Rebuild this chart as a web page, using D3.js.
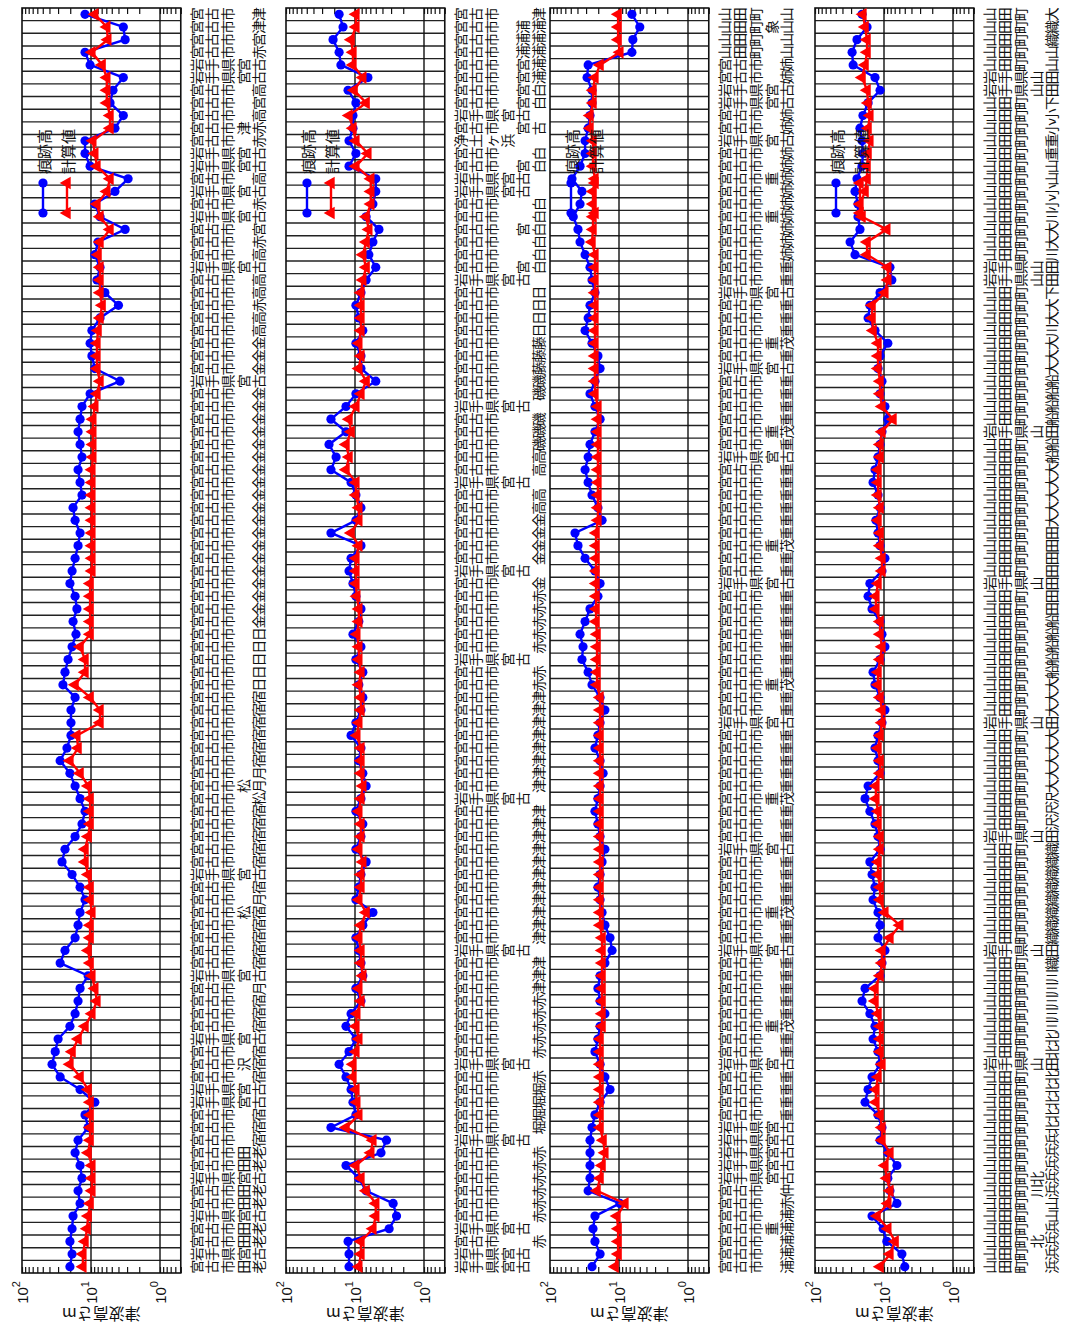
<!DOCTYPE html>
<html><head><meta charset="utf-8">
<script src="https://cdn.jsdelivr.net/npm/d3@7"></script>
<style>body{margin:0;background:#fff}svg{display:block}</style>
</head><body>
<svg id="c" width="1067" height="1329"></svg>
<script>
// ---- data (each panel listed from top row to bottom row) ----
const obs1 = [12.2,3.4,3.2,12.2,10.3,3.4,4.8,5.3,3.4,4.5,
12.2,12.2,10.3,2.9,4.5,8.8,7.4,3.2,7.9,8.8,
7.4,8.2,6.3,4.0,7.4,9.7,10.3,9.7,8.8,3.8,
10.3,13.5,14.4,15.4,14.4,13.5,15.4,14.4,13.5,18.2,
17.0,14.4,15.4,17.0,18.8,20.2,17.0,16.0,18.2,16.5,
18.8,21.5,23.8,25.5,17.0,19.5,19.5,19.5,22.3,28,
20.2,17,14.4,12.2,13.5,17,23.8,26.3,18.8,14.4,
12.2,14.4,15.4,17,23.8,28,11,14.4,15.4,17,
20.2,30,33,36.7,28,14.4,8.8,12.2,11,15.4,
17,14.4,13.5,15.4,14.4,18.2,18.8,20.2,18.8,20.2];
const calc1 = [8.8,5.9,5.7,9.7,6.9,5.9,5.9,5.9,5.3,5.3,
9.4,8.8,8.2,5.3,5.9,8.2,7.4,5.3,7.4,7.9,
7.4,7.4,7.4,6.9,7.4,7.9,8.2,8.2,8.2,7.4,
8.2,8.8,9.4,9.4,9.4,9.4,9.7,9.7,9.7,9.7,
9.7,9.7,9.7,9.7,9.7,10.3,10.3,10.3,10.3,10.3,
14.4,12.2,12.2,17.0,10.3,7.4,7.4,16.0,15.4,20.2,
14.4,11,10.3,10.3,10.3,11,12.2,12.2,11,10.3,
10.3,9.7,10.3,10.3,11,10.3,9.7,8.8,8.2,9.7,
12.2,15.4,18.8,20.2,14.4,11,10.3,10.3,10.3,10.3,
11,9.7,9.7,9.7,10.3,11,11.4,12.2,13.1,13.1];
const obs2 = [17.0,14.9,20.8,17.0,16.0,6.5,12.6,9.7,10.7,10.7,
12.2,9.7,12.2,5.0,5.0,5.5,6.9,4.5,5.5,6.3,
5.0,6.9,8.2,9.7,8.8,7.7,9.7,8.2,8.2,5.0,
9.7,13.5,22.3,13.5,23.8,18.8,22.3,11.4,9.7,8.2,
9.7,22.3,8.2,11.4,12.2,10.7,9.7,8.2,8.8,10.7,
8.2,9.7,7.7,8.8,7.7,8.2,9.7,11.4,8.2,8.8,
7.7,6.9,8.2,9.7,7.7,8.2,9.7,6.9,8.2,8.8,
9.7,5.5,7.7,9.7,8.8,8.2,7.7,9.7,8.2,11.4,
13.5,9.7,12.2,17.0,13.5,11.4,10.7,9.7,22.3,3.5,
4.2,13.5,8.8,6.9,2.8,2.5,3.2,12.6,12.2,12.2];
const calc2 = [9.7,9.7,11.4,10.7,10.7,7.7,10.3,6.9,12.2,10.7,
9.7,6.5,9.7,5.9,5.9,5.9,6.9,6.3,6.9,7.7,
6.9,7.7,8.2,8.2,8.2,8.2,8.8,8.2,8.8,6.9,
8.2,9.7,12.2,11.4,13.5,12.2,13.5,9.7,9.7,8.8,
8.8,11.4,8.8,9.7,9.7,9.7,9.4,8.8,8.8,9.4,
8.8,8.8,8.2,8.8,8.2,8.2,8.8,9.4,8.2,8.2,
8.2,7.7,8.2,8.8,8.2,8.2,8.8,7.7,8.2,8.2,
8.8,6.9,8.2,8.8,8.2,8.2,7.7,8.8,8.2,9.4,
9.7,8.8,9.7,10.7,10.7,9.7,9.4,8.8,13.5,5.5,
5.9,9.7,8.2,6.9,5.0,5.0,5.5,8.2,8.2,8.8];
const obs3 = [6.5,5.0,6.3,6.5,28,29,24.6,24.6,26.3,28,
31,31,36.7,48,34.4,36.7,46,39.3,36.7,31,
26.3,24.6,22.3,26.3,28,31,24.6,20.2,18.8,22.3,
26.3,22.3,18.8,22.3,26.3,28,31,28,24.6,20.2,
17.6,43.4,39.3,31,22.3,18.8,20.2,26.3,31,36.7,
33.2,34.4,28,24.6,18.8,16.0,18.8,20.2,22.3,18.8,
17.0,18.8,20.2,22.3,20.2,18.8,16.0,17.6,18.8,20.2,
18.8,17.6,16.0,13.5,12.6,16.0,18.8,20.2,18.8,16.0,
18.8,20.2,22.3,18.8,16.0,13.5,18.8,22.3,24.6,26.3,
26.3,26.3,26.3,28,9.7,22.3,23.8,22.3,18.8,24.6];
const calc3 = [10.3,10.3,10.3,9.7,18.8,22.3,23.8,23.8,26.3,26.3,
23.8,23.8,23.8,22.3,23.8,23.8,23.8,23.8,24.6,22.3,
22.3,22.3,22.3,22.3,22.3,22.3,22.3,22.3,22.3,22.3,
22.3,20.2,20.2,20.2,20.2,20.2,20.2,20.2,20.2,20.2,
20.2,21.5,21.5,21.5,21.5,21.5,21.5,21.5,21.5,20.8,
20.8,20.8,20.8,20.8,18.8,18.8,18.8,18.8,18.8,18.8,
18.8,18.8,18.8,18.8,18.8,18.8,18.8,18.8,18.8,18.8,
18.8,18.8,18.8,17.6,17.6,17.6,17.6,17.6,17.6,17.6,
17.6,18.8,18.8,18.8,18.8,18.8,18.8,18.8,18.8,17.0,
16.0,17.6,18.8,20.8,8.2,10.7,10.3,10.3,10.3,11.4];
const obs4 = [20.8,17.6,24.6,29,28,13.5,11.4,17.0,20.2,22.3,
20.8,20.2,20.8,24.6,26.3,23.8,23.8,22.3,31,26.3,
8.2,7.7,11.4,16.0,17.0,13.5,8.8,11.4,12.2,10.7,
11.4,9.7,8.8,10.7,11.4,12.2,13.5,14.4,12.2,11.4,
13.1,12.2,11.4,9.7,10.7,16.0,17.0,14.9,11.4,10.7,
9.7,11.4,14.4,13.5,11.4,9.7,10.7,12.2,13.5,12.2,
11.4,17.0,18.8,16.0,13.5,12.2,11.4,16.0,14.9,13.5,
14.4,12.2,11.4,12.2,9.7,10.7,11.4,18.8,20.8,16.0,
13.5,14.4,12.2,11.4,14.9,17.0,18.8,12.2,10.7,11.4,
8.8,6.5,8.8,8.2,6.5,14.9,10.3,9.1,5.5,5.0];
const calc4 = [20.2,18.8,17.6,17.6,18.8,20.8,17.6,17.0,16.0,17.0,
16.0,17.0,17.6,17.6,18.8,22.3,20.8,9.1,17.6,17.6,
8.8,8.8,9.7,14.9,14.9,14.4,12.2,12.2,12.2,11.4,
11.4,10.7,7.4,10.7,11.4,11.4,12.2,12.2,12.2,11.4,
12.2,11.4,11.4,10.7,10.7,12.2,13.1,13.1,11.4,11.4,
10.7,11.4,12.2,12.2,11.4,10.7,10.7,11.4,12.2,11.4,
11.4,13.1,13.1,12.2,12.2,11.4,11.4,12.2,12.2,11.4,
11.4,9.7,5.9,8.2,10.7,10.7,11.4,13.5,13.5,12.2,
11.4,11.4,11.4,10.7,12.2,13.1,13.1,11.4,10.7,10.7,
8.2,9.7,9.1,8.2,8.8,12.6,8.8,6.9,8.2,11.4];

const labels1 = ("宮古市　津,宮古市　津,宮古市　宮,宮古市　赤,岩手県宮古,岩手県宮古,宮古市　高,宮古市　宮,宮古市　高,宮古市津赤," +
"宮古市　赤,岩手県宮古,岩手県宮古,宮古市　高,岩手県宮古,宮古市　赤,岩手県宮古,宮古市　宮,宮古市　赤,宮古市　高," +
"岩手県宮古,宮古市　高,宮古市　高,宮古市　赤,宮古市　高,宮古市　高,宮古市　金,宮古市　金,宮古市　金,岩手県宮古," +
"宮古市　金,宮古市　金,宮古市　金,宮古市　金,宮古市　金,宮古市　金,宮古市　金,宮古市　金,宮古市　金,宮古市　金," +
"宮古市　金,宮古市　金,宮古市　金,宮古市　金,宮古市　金,宮古市　金,宮古市　金,宮古市　金,宮古市　金,宮古市　日," +
"宮古市　日,宮古市　日,宮古市　日,宮古市　日,宮古市　宿,宮古市　宿,宮古市　宿,宮古市　宿,宮古市　宿,宮古市　宿," +
"宮古市　月,宮古市松月,宮古市　松,宮古市　宿,宮古市　宿,宮古市　宿,宮古市　宿,宮古市　宿,岩手県宮古,宮古市　宿," +
"宮古市　月,宮古市松宿,宮古市　宿,宮古市　宿,宮古市　宿,宮古市　宿,岩手県宮古,宮古市　月,宮古市　宿,宮古市　宿," +
"宮古市　宿,岩手県宮古,宮古市　宿,宮古市沢宿,宮古市　宿,岩手県宮古,岩手県宮古,宮古市　宿,宮古市　宿,宮古市　宿," +
"宮古市田老,宮古市田老,岩手県宮古,宮古市田老,宮古市田老,岩手県宮古,宮古市田老,宮古市田老,岩手県宮古,宮古市田老").split(",");
const labels2 = ("宮古市　　津,宮古市　浦浦,宮古市　浦浦,宮古市　浦浦,宮古市　宮浦,宮古市　宮浦,宮古市　宮白,宮古市　宮白,岩手県宮古,宮古市　宮古," +
"浄土ヶ浜,宮古市　　白,宮古市　宮白,岩手県宮古,岩手県宮古,宮古市　　白,宮古市　　白,宮古市　宮白,宮古市　　白,宮古市　　白," +
"宮古市　宮白,岩手県宮古,宮古市　　日,宮古市　　日,宮古市　　日,宮古市　　日,宮古市　　藤,宮古市　　藤,宮古市　　藤,宮古市　　磯," +
"宮古市　　磯,岩手県宮古,宮古市　　磯,宮古市　　磯,宮古市　　磯,宮古市　　高,宮古市　　高,岩手県宮古,宮古市　　高,宮古市　　高," +
"宮古市　　金,宮古市　　金,宮古市　　金,宮古市　　金,岩手県宮古,宮古市　　金,宮古市　　赤,宮古市　　赤,宮古市　　赤,宮古市　　赤," +
"宮古市　　赤,岩手県宮古,宮古市　　赤,宮古市　　赤,宮古市　　津,宮古市　　津,宮古市　　津,宮古市　　津,宮古市　　津,宮古市　　津," +
"宮古市　　津,宮古市　　津,岩手県宮古,宮古市　　津,宮古市　　津,宮古市　　津,宮古市　　津,宮古市　　津,宮古市　　津,宮古市　　津," +
"宮古市　　津,宮古市　　津,宮古市　　津,宮古市　　津,岩手県宮古,宮古市　　津,宮古市　　津,宮古市　　津,宮古市　　赤,宮古市　　赤," +
"宮古市　　赤,宮古市　　赤,宮古市　　赤,岩手県宮古,宮古市　　赤,宮古市　　堀,宮古市　　堀,宮古市　　堀,宮古市　　堀,岩手県宮古," +
"宮古市　　赤,宮古市　　赤,宮古市　　赤,宮古市　　赤,宮古市　　赤,宮古市　　赤,岩手県宮古,宮古市　　赤,岩手県宮古,岩手県宮古").split(",");
const labels3 = ("山田町　山,山田町象山,山田町　山,山田町　山,宮古市　姉,宮古市　姉,岩手県宮古,岩手県宮古,宮古市　姉,宮古市　姉," +
"岩手県宮古,宮古市　姉,宮古市　姉,宮古市重姉,宮古市　姉,宮古市　姉,宮古市重姉,宮古市　姉,宮古市　姉,宮古市　姉," +
"宮古市　重,宮古市　重,岩手県宮古,宮古市　重,宮古市　重,宮古市　重,宮古市重茂,宮古市　重,岩手県宮古,宮古市　重," +
"宮古市　重,宮古市　重,宮古市　重,宮古市重茂,宮古市　重,岩手県宮古,宮古市　重,宮古市　重,宮古市　重,宮古市　重," +
"宮古市　重,宮古市　重,宮古市重茂,宮古市　重,宮古市　重,岩手県宮古,宮古市　重,宮古市　重,宮古市　重,宮古市　重," +
"宮古市　重,宮古市　重,宮古市　重,宮古市重茂,宮古市　重,宮古市　重,岩手県宮古,宮古市　重,宮古市　重,宮古市　重," +
"宮古市　重,宮古市　重,宮古市重茂,宮古市　重,宮古市　重,宮古市　重,岩手県宮古,宮古市　重,宮古市　重,宮古市　重," +
"宮古市　重,宮古市重茂,宮古市　重,宮古市　重,岩手県宮古,宮古市　重,宮古市　重,宮古市　重,宮古市　重,宮古市　重," +
"宮古市重茂,宮古市　重,宮古市　重,岩手県宮古,宮古市　重,宮古市　重,宮古市　重,宮古市　重,岩手県宮古,岩手県宮古," +
"岩手県宮古,岩手県宮古,岩手県宮古,宮古市　仲,宮古市　赤,宮古市　浦,宮古市重浦,宮古市　浦,宮古市　浦,宮古市　浦").split(",");
const labels4 = ("山田町　大,山田町　織,山田町　織,山田町　山,山田町　山,岩手県山田,岩手県山田,山田町　下,山田町　小,山田町　小," +
"山田町　重,山田町　重,山田町　山,山田町　山,山田町　小,山田町　小,山田町　川,山田町　大,山田町　大,山田町　川," +
"岩手県山田,岩手県山田,山田町　下,山田町　大,山田町　大,山田町　川,山田町　大,山田町　大,山田町　大,山田町　船," +
"山田町　船,山田町　船,山田町　船,岩手県山田,山田町　船,山田町　船,山田町　大,山田町　大,山田町　大,山田町　大," +
"山田町　大,山田町　田,山田町　田,山田町　田,山田町　田,岩手県山田,山田町　田,山田町　田,山田町　船,山田町　船," +
"山田町　船,山田町　船,山田町　船,山田町　大,山田町　大,山田町　大,岩手県山田,山田町　大,山田町　大,山田町　大," +
"山田町　大,山田町　大,山田町　沢,山田町　沢,山田町　沢,岩手県山田,山田町　織,山田町　織,山田町　織,山田町　織," +
"山田町　織,山田町　織,山田町　織,山田町　織,岩手県山田,山田町　織,山田町　川,山田町　川,山田町　川,山田町　川," +
"山田町　川,山田町　北,山田町　北,岩手県山田,山田町　北,山田町　北,山田町　北,山田町　北,山田町　北,山田町　浜," +
"山田町　浜,山田町　浜,山田町北浜,山田町川浜,山田町　山,山田町　山,山田町　浜,山田町北浜,山田町　浜,山田町　浜").split(",");

const legendNames = ["痕跡高", "計算値"];
const axisTitle = "津波高さm";
const majorTicks = [100, 10, 1];
const majorExp = ["2", "1", "0"];

// ---- layout ----
const svg = d3.select("#c");
const panelLeft = [22, 286, 550, 815];
const decade = 69;
const plotTop = 8, plotBottom = 1273;
const panels = [
  {obs: obs1, calc: calc1, labels: labels1},
  {obs: obs2, calc: calc2, labels: labels2},
  {obs: obs3, calc: calc3, labels: labels3},
  {obs: obs4, calc: calc4, labels: labels4}
];
const cjk = "'Noto Sans CJK JP','Noto Sans CJK SC',sans-serif";
const latin = "'Liberation Sans',Arial,sans-serif";
const triPath = d3.symbol(d3.symbolTriangle, 70)();

panels.forEach((p, k) => {
  const x0 = panelLeft[k];
  const x = d3.scaleLog().domain([100, 0.5]).range([x0, x0 + decade * Math.log10(200)]);
  const [xa, xb] = x.range();
  const n = p.obs.length;
  const y = d3.scaleBand().domain(d3.range(n)).range([plotTop, plotBottom]);
  const cy = i => y(i) + y.bandwidth() / 2;
  const g = svg.append("g");

  g.selectAll("line.sep").data(d3.range(1, n)).join("line")
    .attr("x1", xa).attr("x2", xb)
    .attr("y1", i => plotTop + i * y.step()).attr("y2", i => plotTop + i * y.step())
    .attr("stroke", "#222").attr("stroke-width", 1.4);
  g.selectAll("line.maj").data([10, 1]).join("line")
    .attr("x1", d => x(d)).attr("x2", d => x(d))
    .attr("y1", plotTop).attr("y2", plotBottom)
    .attr("stroke", "#111").attr("stroke-width", 1.4);

  const tv = x.ticks();
  const axT = g.append("g").attr("transform", `translate(0,${plotTop})`)
    .call(d3.axisTop(x).tickValues(tv).tickSize(-6).tickFormat(""));
  const axB = g.append("g").attr("transform", `translate(0,${plotBottom})`)
    .call(d3.axisBottom(x).tickValues(tv).tickSize(-6).tickFormat(""));
  [axT, axB].forEach(a => { a.select(".domain").remove(); a.selectAll("line").attr("stroke", "#111").attr("stroke-width", 1.2); });

  g.append("rect").attr("x", xa).attr("y", plotTop).attr("width", xb - xa).attr("height", plotBottom - plotTop)
    .attr("fill", "none").attr("stroke", "#111").attr("stroke-width", 1.6);

  majorTicks.forEach((v, j) => {
    const t = g.append("text")
      .attr("transform", `translate(${x(v)},${plotBottom + 8}) rotate(-90)`)
      .attr("text-anchor", "end").attr("dominant-baseline", "central")
      .attr("font-family", latin).attr("font-size", 15).attr("fill", "#111");
    t.append("tspan").text("10");
    t.append("tspan").attr("dy", "-0.55em").attr("font-size", 11).text(majorExp[j]);
  });
  g.append("text")
    .attr("transform", `translate(${(xa + xb) / 2},${plotBottom + 42}) rotate(180)`)
    .attr("text-anchor", "middle").attr("dominant-baseline", "central")
    .attr("font-family", cjk).attr("font-size", 16).attr("fill", "#111").text(axisTitle);

  const line = d3.line().x(d => x(d[1])).y(d => cy(d[0]));
  const obsPts = p.obs.map((v, i) => [i, v]);
  const calcPts = p.calc.map((v, i) => [i, v]);
  g.append("path").attr("d", line(obsPts)).attr("fill", "none").attr("stroke", "#0000ff").attr("stroke-width", 2.4);
  g.selectAll("circle.o").data(obsPts).join("circle")
    .attr("cx", d => x(d[1])).attr("cy", d => cy(d[0])).attr("r", 4.6).attr("fill", "#0000ff");
  g.append("path").attr("d", line(calcPts)).attr("fill", "none").attr("stroke", "#ff0000").attr("stroke-width", 2.4);
  g.selectAll("path.t").data(calcPts).join("path")
    .attr("d", triPath).attr("fill", "#ff0000")
    .attr("transform", d => `translate(${x(d[1])},${cy(d[0])}) rotate(-90)`);

  const lx = [xa + 21, xa + 45];
  [0, 1].forEach(s => {
    const col = s === 0 ? "#0000ff" : "#ff0000";
    g.append("line").attr("x1", lx[s]).attr("x2", lx[s]).attr("y1", 183).attr("y2", 213)
      .attr("stroke", col).attr("stroke-width", 2.4);
    [183, 213].forEach(yy => {
      if (s === 0) g.append("circle").attr("cx", lx[s]).attr("cy", yy).attr("r", 4.6).attr("fill", col);
      else g.append("path").attr("d", triPath).attr("fill", col).attr("transform", `translate(${lx[s]},${yy}) rotate(-90)`);
    });
    g.append("text").attr("transform", `translate(${lx[s]},174) rotate(-90)`)
      .attr("text-anchor", "start").attr("dominant-baseline", "central")
      .attr("font-family", cjk).attr("font-size", 15).attr("fill", "#111").text(legendNames[s]);
  });

  const colStep = 15.6;
  p.labels.forEach((lab, i) => {
    Array.from(lab).forEach((ch, j) => {
      if (ch === "　" || ch === " ") return;
      g.append("text")
        .attr("transform", `translate(${xb + 15 + j * colStep},${cy(i)}) rotate(-90)`)
        .attr("text-anchor", "middle").attr("dominant-baseline", "central")
        .attr("font-family", cjk).attr("font-size", 14).attr("fill", "#111").text(ch);
    });
  });
});
</script>
</body></html>
